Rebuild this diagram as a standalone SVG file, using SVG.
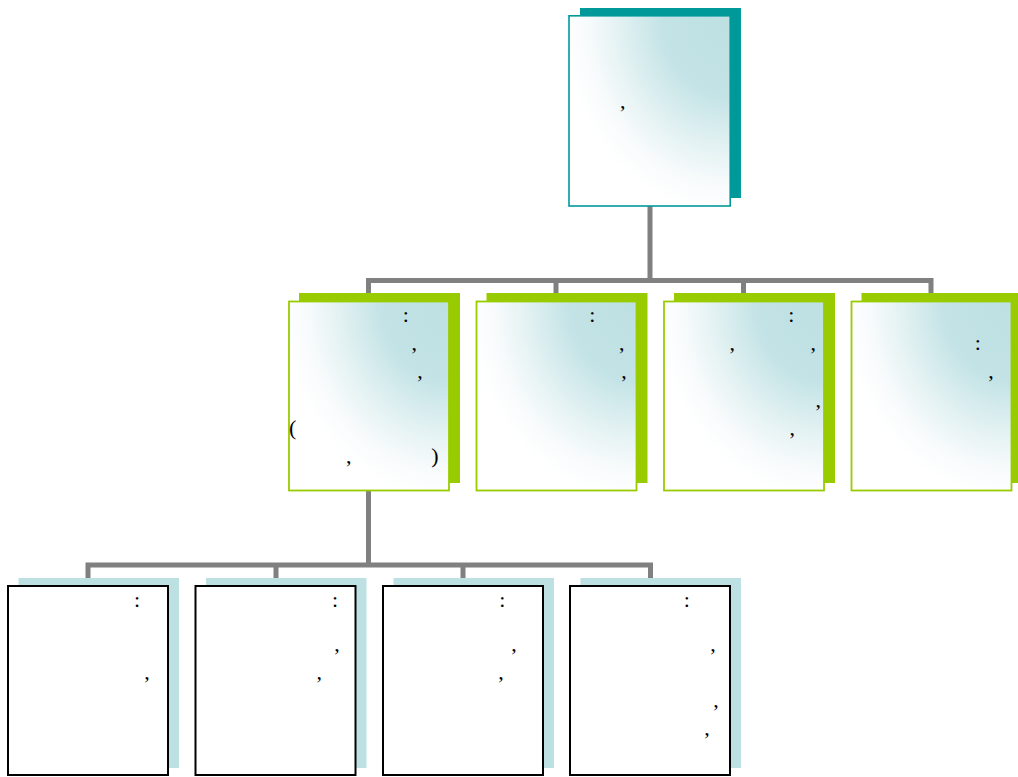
<svg xmlns="http://www.w3.org/2000/svg" width="1018" height="777" viewBox="0 0 1018 777">
<defs>
<radialGradient id="g" cx="1" cy="0" r="1.05" fx="1" fy="0">
<stop offset="0" stop-color="#bde0e3"/>
<stop offset="0.4" stop-color="#c3e3e6"/>
<stop offset="0.65" stop-color="#e2f1f2"/>
<stop offset="0.85" stop-color="#f8fbfc"/>
<stop offset="1" stop-color="#ffffff"/>
</radialGradient>
</defs>
<style>
.conn{fill:none;stroke:#808080;stroke-width:5}
.sh0{fill:#009999}
.sh1{fill:#99cc00}
.sh2{fill:#bde0e3}
.b0{fill:url(#g);stroke:#009999;stroke-width:1.6}
.b1{fill:url(#g);stroke:#99cc00;stroke-width:1.8}
.b2{fill:#ffffff;stroke:#000000;stroke-width:2}
text{font-family:"Liberation Serif","Times New Roman",serif;font-size:22px;fill:#000;text-anchor:middle}
</style>
<rect width="1018" height="777" fill="#ffffff"/>
<g id="connectors">
<path class="conn" d="M650,206 V280.5 M368.5,293 V280.5 H931 V293 M556,280.5 V293 M743.5,280.5 V293"/>
<path class="conn" d="M368.5,491 V565 M88,578 V565 H650.5 V578 M276,565 V578 M463,565 V578"/>
</g>
<g id="n0">
<rect class="sh0" x="580" y="8" width="161" height="190"/>
<rect class="b0" x="569" y="15.8" width="161.2" height="190.2"/>
<text x="622.7" y="108">,</text>
</g>
<g id="n1">
<rect class="sh1" x="299" y="293" width="161" height="190"/>
<rect class="b1" x="289" y="301.5" width="160" height="189"/>
<text x="405.7" y="322">:</text>
<text x="414.3" y="350">,</text>
<text x="420" y="377.5">,</text>
<text x="292.7" y="435">(</text>
<text x="348.7" y="462.5">,</text>
<text x="435" y="462.5">)</text>
</g>
<g id="n2">
<rect class="sh1" x="486.5" y="293" width="161" height="190"/>
<rect class="b1" x="476.5" y="301.5" width="160" height="189"/>
<text x="592.3" y="322">:</text>
<text x="621.7" y="350">,</text>
<text x="624" y="377.5">,</text>
</g>
<g id="n3">
<rect class="sh1" x="674" y="293" width="161" height="190"/>
<rect class="b1" x="664" y="301.5" width="160" height="189"/>
<text x="791.3" y="322">:</text>
<text x="732.3" y="350">,</text>
<text x="813.3" y="350">,</text>
<text x="818.3" y="406.5">,</text>
<text x="792.3" y="434.5">,</text>
</g>
<g id="n4">
<rect class="sh1" x="861.5" y="293" width="161" height="190"/>
<rect class="b1" x="851.5" y="301.5" width="160" height="189"/>
<text x="977.7" y="350">:</text>
<text x="991" y="377.5">,</text>
</g>
<g id="n5">
<rect class="sh2" x="18.5" y="578" width="160.5" height="190"/>
<rect class="b2" x="8" y="586" width="160" height="189"/>
<text x="137" y="607">:</text>
<text x="147" y="679">,</text>
</g>
<g id="n6">
<rect class="sh2" x="206" y="578" width="160.5" height="190"/>
<rect class="b2" x="195.5" y="586" width="160" height="189"/>
<text x="335" y="607">:</text>
<text x="337" y="651">,</text>
<text x="319.3" y="679">,</text>
</g>
<g id="n7">
<rect class="sh2" x="393.5" y="578" width="160.5" height="190"/>
<rect class="b2" x="383" y="586" width="160" height="189"/>
<text x="502.3" y="607">:</text>
<text x="514" y="651">,</text>
<text x="501" y="679">,</text>
</g>
<g id="n8">
<rect class="sh2" x="580.5" y="578" width="160.5" height="190"/>
<rect class="b2" x="570" y="586" width="160" height="189"/>
<text x="686.7" y="607">:</text>
<text x="713" y="651">,</text>
<text x="716" y="707">,</text>
<text x="707" y="735">,</text>
</g>
</svg>
